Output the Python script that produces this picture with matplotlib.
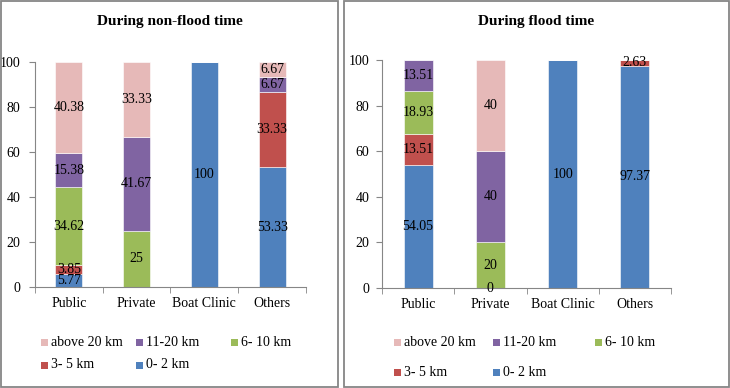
import numpy as np
import matplotlib.pyplot as plt
from matplotlib.patches import Rectangle

plt.rcParams['font.family'] = ['Liberation Serif', 'DejaVu Serif']

categories = ['Public', 'Private', 'Boat Clinic', 'Others']
series_names = ['0- 2 km', '3- 5 km', '6- 10 km', '11-20 km', 'above 20 km']
colors = ['#4F81BD', '#C0504D', '#9BBB59', '#8064A2', '#E6B9B8']

# non-flood time, rows follow series_names
nonflood = [
    [5.77, 0, 100, 53.33],
    [3.85, 0, 0, 33.33],
    [34.62, 25, 0, 0],
    [15.38, 41.67, 0, 6.67],
    [40.38, 33.33, 0, 6.67],
]
# flood time
flood = [
    [54.05, 0, 100, 97.37],
    [13.51, 0, 0, 2.63],
    [18.93, 20, 0, 0],
    [13.51, 40, 0, 0],
    [0, 40, 0, 0],
]
# zero values that still get a label (flood, Private, 0- 2 km)
zero_labels = {'flood': [(0, 1)], 'nonflood': []}

W, H = 730, 388
fig = plt.figure(figsize=(W / 100, H / 100), dpi=100)


def px(x, y):
    return x / W, 1 - y / H


# panel frames
for x0, x1 in [(0.5, 338), (344, 729)]:
    fig.add_artist(Rectangle(px(x0, 387), (x1 - x0) / W, 386 / H,
                             transform=fig.transFigure, fill=False,
                             edgecolor='#868686', linewidth=1.3))


def draw(ax, data, zl, ypad):
    x = np.arange(len(categories))
    bottom = np.zeros(len(categories))
    for i, vals in enumerate(data):
        vals = np.array(vals, dtype=float)
        ax.bar(x, vals, 0.4, bottom=bottom, color=colors[i],
               edgecolor='white', linewidth=0.4, zorder=2)
        for j, v in enumerate(vals):
            if v > 0 or (i, j) in zl:
                ax.text(x[j], bottom[j] + v / 2, '%g' % v, ha='center',
                        va='center', fontsize=10, zorder=3)
        bottom += vals
    ax.set_xlim(-0.5, len(categories) - 0.5)
    ax.set_ylim(0, 100)
    ax.set_yticks(np.arange(0, 101, 20))
    ax.set_xticks(x)
    ax.set_xticklabels(categories)
    ax.set_xticks(np.arange(-0.5, len(categories)), minor=True)
    ax.tick_params(axis='x', which='major', length=0, labelsize=10, pad=7)
    ax.tick_params(axis='x', which='minor', length=4, color='#868686')
    ax.tick_params(axis='y', length=4, color='#868686', labelsize=10, pad=ypad)
    for s in ['top', 'right']:
        ax.spines[s].set_visible(False)
    for s in ['left', 'bottom']:
        ax.spines[s].set_color('#868686')


def legend(xs, ys):
    # Excel-style legend: above 20, 11-20, 6-10 / 3-5, 0-2
    order = [4, 3, 2, 1, 0]
    slots = [(xs[0], ys[0]), (xs[1], ys[0]), (xs[2], ys[0]),
             (xs[0], ys[1]), (xs[1], ys[1])]
    for k, (lx, ly) in zip(order, slots):
        fig.add_artist(Rectangle(px(lx, ly + 3.5), 7 / W, 7 / H,
                                 transform=fig.transFigure,
                                 facecolor=colors[k], edgecolor='none'))
        fig.text(*px(lx + 10, ly), series_names[k], fontsize=10,
                 ha='left', va='center')


ax1 = fig.add_axes([35 / W, 1 - 287 / H, 271 / W, 225 / H])
draw(ax1, nonflood, zero_labels['nonflood'], 6.5)
fig.text(*px(169.5, 22), 'During non-flood time', fontsize=11,
         fontweight='bold', ha='center', va='center')
legend([41, 136, 231], [342, 365])

ax2 = fig.add_axes([382 / W, 1 - 288 / H, 289 / W, 228 / H])
draw(ax2, flood, zero_labels['flood'], 5)
fig.text(*px(536.5, 22), 'During flood time', fontsize=11,
         fontweight='bold', ha='center', va='center')
legend([394, 493, 595], [342, 372])

fig.savefig('out.png', dpi=100)
